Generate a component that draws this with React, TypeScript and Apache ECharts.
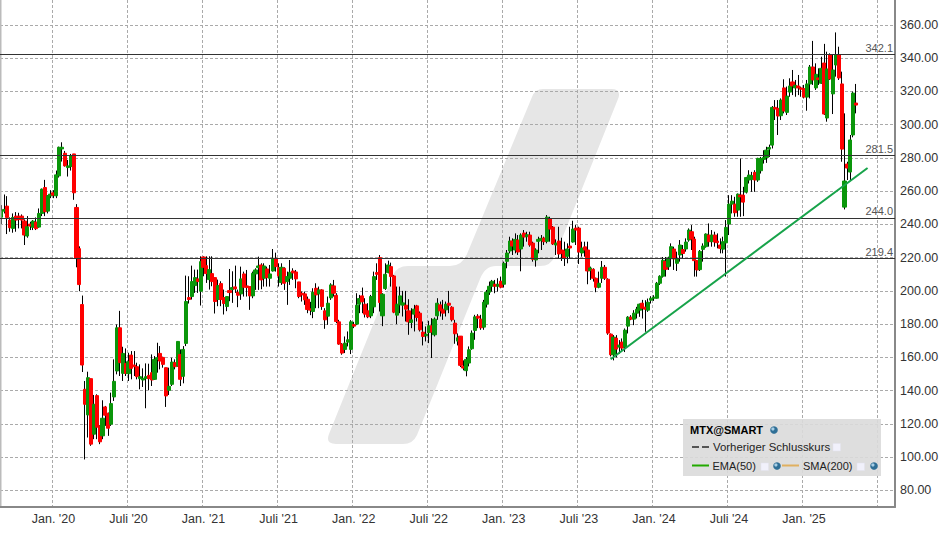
import React, { useEffect, useRef } from "react";
import * as echarts from "echarts";

// [open, close, low, high], weekly
const candles: number[][] = [
[244.3,248,240.2,251.6],[248,249,246.6,258],[251,244.2,234.2,257],[242.6,238,235.6,244.2],[237.6,244.2,235,246.6],[245,242.6,235.6,247.4],[245,243,237.6,247],[245,242.6,237.6,246],[242,233.6,227.6,243],[233,238.6,232,245],
[240.2,239,236.6,241.6],[238.2,242,236.6,242.6],[241.4,237.4,236.6,244.2],[238.4,246.6,238,249.6],[246.6,261.2,245,261.6],[262.2,247.6,245,266.8],[248,257.2,246.6,257.6],[257.2,258.2,255.8,260.6],[259,257.6,255.8,260.6],[257.2,269.8,255.8,272.4],
[269.2,286.4,268.2,286.8],[285.4,286.4,277.8,289.4],[282.8,275.2,274.8,284.2],[274.2,275.2,268.8,278.8],[274.8,281.2,272.4,282.4],[282.4,259,254.8,282.4],[250.2,219.8,214.2,252.2],[225.4,203.8,199.8,226.8],[191.8,155.4,151.2,197.2],[140.8,131.8,98.6,145.8],
[125.4,147.8,111.8,151.4],[147.2,107.8,106.8,147.2],[113.8,131.8,110.8,137.4],[137,118,110.8,137.8],[118.8,109.2,107.8,119.2],[112.8,123.4,110.8,134.2],[130.2,125.2,118.8,130.8],[126.4,117.4,112.8,126.8],[119.8,132.2,118.8,138.8],[136.2,145.6,133.8,158.8],
[151.8,177.8,149.8,179.8],[177.8,156.8,148.8,188],[150.4,162.4,145.8,166.4],[156.4,150.4,148.8,165.4],[150.2,157.4,145.8,162.8],[161.4,153.4,146.8,163.8],[155.4,154.4,148.8,163.8],[154.4,148.4,146.8,156.8],[147.2,148.4,140.8,155.8],[146.4,147.4,142.2,153.4],
[147.4,148.4,129.4,156.4],[149.2,147.2,140.2,156.2],[150.8,146.4,142.8,161.8],[146.8,158.8,146.4,160.8],[158.8,159.8,150.8,168.8],[162.4,157.8,152.8,166.8],[160,155.8,153.8,160.4],[153.8,136.8,130.2,153.8],[140.2,142.6,137.4,153.8],[143.8,157.2,142.8,159.8],
[156.8,154.4,152.8,158.8],[154.8,169.6,154.4,169.6],[161.8,146.8,142.8,164.8],[148.6,164.8,144.4,166.8],[168.4,193.6,166.8,209.2],[196,194.8,192.4,208.8],[196.6,205.6,194.8,215.2],[203.2,208,198.8,212.8],[207.2,205.6,198.8,212.8],[199.8,217.6,191.2,220.8],
[220.4,214.2,208.8,220.8],[215.2,210.4,204.8,220.8],[206.8,212.8,200.8,220.8],[210.4,205.6,202.8,220.8],[208,193.6,186.4,208],[194.8,203.2,190.8,206.8],[204.4,194.8,190.8,205.8],[196,192.4,185.8,200.8],[190.6,196.6,187.8,196.8],[200.2,199,193.8,213.2],
[200.8,202,192.8,211.8],[202.4,201.2,198.8,215.2],[199.2,197.4,190.2,200.8],
[198.2,207.2,194.6,214.6],[210.2,202.2,196.6,211.6],[203,202,196.6,212.6],[202.6,197,188.6,202.6],[197,210.6,195.6,211.6],[210.2,212.6,200.6,213.6],[214,215,200.6,220.6],[215.6,206.6,201,216.6],[207.6,215,202.6,216.6],
[213.2,208,202.6,214.6],[207.6,210.2,202.6,215.6],[212,219.6,211.6,225.2],[219.6,214.6,211.6,223],[214,209,202.6,216.6],[205,214.2,203.6,216.6],[213.6,204.6,200.6,214.2],[205.6,208.6,191.6,211.6],[207.6,211.2,203.6,218.6],[212,210.8,206.6,213.6],
[211.4,207.2,201.6,212.6],[205.4,196.6,195.6,205.4],[198.6,197.6,193.6,199.6],[198.2,194.6,191.6,199.6],[195,188.8,186.6,196.6],[189.2,188.4,185.4,193.4],[187.6,199.2,183.6,201.6],[201.6,197.6,189.6,204.6],[198.2,200.6,189.6,202.6],[200.6,190.6,188.6,201],
[188,182.6,177.2,189.6],[184.8,192.6,179.6,196.6],[195.8,203.6,194.6,204.6],[203,198.6,196.6,206.6],[197.4,181.6,180.6,198.6],[181.4,168,167.6,182.6],[168,162.6,161.6,168.6],[164.8,168.6,162.6,172.6],[169.2,170.6,166.6,175.6],[164.8,181.4,162,182.4],
[179.8,178.8,177.6,181.4],[180,191.4,179.4,198.6],[192,195.4,186.6,197.6],[197,193.4,186.6,202],[192,186,184,195.6],[188,184.4,183.6,192.6],[185,196.6,183.6,197.6],[190.4,208.6,186.6,211.6],[211,210,206.6,216.6],[220,193,187.6,221.6],
[185,198,178.8,198.6],[201.4,210,200.6,216.6],[211,215.6,210.6,218.2],[214.6,208.6,202.6,217],[209,187.2,186.6,209.6],[185.4,192,180,202.6],[191.6,197,186.6,202.6],[191.4,192.8,184.6,200],[191.4,189,181.6,200],[188,181.4,173.6,195],
[181,182.6,177.6,189.6],[186,189,175.6,191.6],[191,184,181.6,191.6],[186.6,176.6,175.6,187.6],[175.2,172.6,167.2,181.6],[173,174,169.6,178.6],[175,179,168.6,182],[179,175.2,159.6,183.6],[173.6,183,172.6,184],[185,192.6,182.6,195.6],
[191.6,188,184.6,193.6],[189,186.6,182.6,194.6],[188.6,192,184.6,193.6],[192.6,191.4,186.6,200],[190.2,182.6,181.6,190.8],[180.6,174.2,168.2,182.6],[169.8,171.8,167.2,174.4],[172.8,155.2,154.2,172.8],[154.6,153.6,152.2,158.2],[152,158.8,148.6,160.2],
[156.6,164.6,154.6,166.6],
[165.2,174.6,164.6,176.2],[176.2,184.4,170.6,185.6],[184.8,183.6,177.6,186],[183,177.8,176.6,185.6],[178.2,193.2,176.6,194.6],[192,199.2,190,200.6],[199.2,202.8,197.6,205.6],[202.8,205.8,199.6,206.6],[204,202.8,198.6,206.6],[202.8,204,199.6,207.6],
[205.8,202.2,201.6,208.6],[204,216.6,202,217.6],[217.8,222.8,213.6,224.6],[224,230,222.6,232.6],[230,227,221.6,231.6],[224.6,231,222.6,234.6],[230.6,223.4,221.6,233.6],[225.2,233.6,211.8,234.6],[234.8,232.4,226.6,236.6],[232.6,233.8,229.6,235.6],
[233.6,227.6,226.6,235.6],[228.8,219,217.6,229.6],[218.6,224.6,214.6,225.6],[229.8,231,222.6,232.6],[230.2,231.6,224.6,233.6],[231.8,229.6,227.6,232.6],[229.8,244.4,228.6,245.6],[243.2,237.2,229.6,244.6],[238.4,228.2,227.6,239],[227.6,228.8,221.6,231],
[230,222.2,219.6,238.6],[224.6,222.6,218,232],[224,219.8,215,229.6],[220.8,225.2,216.6,228.6],[227,225.8,219.6,238.6],[229.4,237.2,229,242.2],[237.8,236.6,227.6,239.6],[237.8,223.4,216.2,238.6],[222.8,225.8,220.6,229.6],[226.5,224.6,220.6,229.6],
[224.6,212,204,229.6],[212.2,213.8,206.6,214.6],[213,207.6,205.6,213.6],[207.6,202.2,199.2,208],[202.2,204.6,201.6,211.6],[207.6,214.2,204.8,218],[214.2,207.6,206.6,215.6],[207,174.6,173.6,207.6],[174,161.6,160.6,174.4],[161.6,172.2,158.2,173.4],
[171.6,165,160,173.4],[166.2,167.4,162.2,170.4],[169.2,165.6,163.2,171.4],[166.2,176.4,163.2,177.4],[178.8,184.2,174.4,184.8],[184.2,183,182.4,185.4],[183,186.6,179.4,188.4],[186.6,189,183.4,190.4],[188.4,192,184.4,192.4],[192.6,189.6,183.4,194.6],
[190.2,189,175.4,194.4],[188.4,193.2,187.4,195.4],[194.4,195.6,192.4,196.8],[195.6,196.2,194,197.4],[195.6,204.6,195.4,205.4],[204.6,208.8,203.6,209.4],[208.8,218.4,208,220.4],[217.8,213,208.6,220.4],[214.4,219.8,212.6,220.6],[219.4,226.6,214.6,228.6],
[225.2,219.2,212.6,226.6],[216.6,219.4,212,223.6],[221.6,227.6,217.6,230.6],[224.9,222.5,219.5,227.6],[225.2,229.4,223.6,231.6],[230.6,236.6,229.6,237.6],
[235.6,231.2,224.6,239.6],[231.2,218.2,208.6,232.6],[218.2,212.6,208.6,218.6],[212.8,223.8,212,224.6],[225,227,217.6,228.6],[226.6,234.2,226,234.6],[233.6,229.6,226.6,240.6],[229.6,233.6,226.6,236.6],[233.6,229.4,226.6,235.6],[230,229,225.6,234.6],
[227.6,225.6,222.6,231.6],[225.1,229.6,222.6,232.6],[228.9,238.2,208.6,242.6],[240.2,252.2,233.6,257.6],[252.2,254,246.6,257.6],[252.2,247,244.6,256.6],[248.6,258.2,244.6,258.6],[257.6,256.6,244.6,279.6],[257.6,253.4,245,262.6],[259.4,268.2,258.6,268.6],
[266.7,269.7,264.6,272.6],[267.1,269.3,259.6,271.6],[271.3,266.7,259.6,272.6],[266.7,279.7,265.6,280.1],[272.3,279.7,270.6,280.6],[279.1,280.3,276.6,284.6],[280.3,284.7,277,286.7],[285.3,286.3,280.6,288],[287.7,310.4,285.7,311.2],[310.4,309.4,302.8,314.8],
[309.8,305.2,293.8,314.8],[305.4,314.8,302.8,315.8],[322.1,308.2,306.8,327.3],[307.4,317.2,305.8,322.9],[319.6,323.3,316.8,327.9],[325.7,323.3,317.8,332.9],[322.1,323.7,316.8,326.9],[323.3,322.1,317.8,329.9],[322.1,321.3,316.8,322.9],[321.7,316.6,315.8,323.9],
[316.6,324.5,308.4,326.9],[324.5,334.7,315.8,335.9],[334.7,326.9,323.9,350.4],[322.1,330.3,320.9,336.9],[328.1,327.1,323.9,333.9],[324.9,333.9,324.5,340.9],[337.1,306.4,305.8,348.6],[304,333.5,301.8,343.9],[341.9,327.5,326.9,342.9],[318.5,332.9,306.4,341.9],
[335.9,341.9,328.9,355.5],[341.9,328.1,326.9,346.9],[324.5,285.3,277.7,331.9],[250.4,266.1,249,306.8],[276.3,273.9,266.7,277.7],[271.5,290.8,266.7,293.8],[293.8,319,292.4,319.9],[313,311.8,306.8,324.5],
];
const xTickLabels = ["Jan. '20","Juli '20","Jan. '21","Juli '21","Jan. '22","Juli '22","Jan. '23","Juli '23","Jan. '24","Juli '24","Jan. '25"];
const levels = [342.1, 281.5, 244.0, 219.4];
const trendStart = { week: 211, value: 158.9 };
const trendEnd = { week: 300, value: 273.9 };
const weekCount = 310;
const firstTick = 18;
const tickStep = 26;

const weeks = Array.from({ length: weekCount }, (_, i) => "w" + i);
const isTick = (i: number) => i >= firstTick && (i - firstTick) % tickStep === 0;
const bodies = candles.map(([o, c]) => [o, c, Math.min(o, c), Math.max(o, c)]);
const trend: (number | null)[] = weeks.map((_, i) =>
  i === trendStart.week ? trendStart.value : i === trendEnd.week ? trendEnd.value : null
);

const WM =
  "M543 89 L611 89 Q622 89 618 99 L555 256 Q551 266 540 266 L496 266 Q485 266 480 279 L417 435 Q413 444 403 444 L336 444 Q325 444 329 434 L393 275 Q397 266 408 266 L450 266 Q462 266 467 254 L532 97 Q535 89 543 89 Z";
echarts.graphic.registerShape("wm", echarts.graphic.extendPath(WM, {}) as any);

const FONT = "Liberation Sans";
const txt = (x: number, y: number, text: string, extra: any = {}) => ({
  type: "text", x, y, z: 101,
  style: { text, fontFamily: FONT, fontSize: 11, fill: "#222", verticalAlign: "middle", ...extra },
});
const orb = (x: number, y: number) => ({
  type: "group", z: 101,
  children: [
    { type: "circle", z: 101, shape: { cx: x, cy: y, r: 3.8 }, style: { fill: "#2f6f96" } },
    { type: "circle", z: 102, shape: { cx: x - 1.1, cy: y - 1, r: 1.6 }, style: { fill: "#a9cfe6" } },
  ],
});
const box = (x: number, y: number) => ({
  type: "rect", z: 101, shape: { x, y, width: 7.5, height: 7.5 }, style: { fill: "#f1f1fb", stroke: "#e3e3ee", lineWidth: 0.5 },
});
const seg = (x1: number, x2: number, y: number, stroke: string, lineWidth = 2) => ({
  type: "line", z: 101, shape: { x1, y1: y, x2, y2: y }, style: { stroke, lineWidth },
});

export default function App() {
  const ref = useRef<HTMLDivElement>(null);
  useEffect(() => {
    const chart = echarts.init(ref.current!, undefined, { renderer: "svg" });
    chart.setOption({
      animation: false,
      backgroundColor: "#fff",
      grid: { left: 0, right: 53, top: 0, bottom: 27 },
      xAxis: {
        type: "category",
        data: weeks,
        axisLine: { lineStyle: { color: "#888", width: 2 } },
        axisTick: { show: false },
        axisLabel: {
          interval: (i: number) => isTick(i),
          formatter: (_: string, i: number) => xTickLabels[(i - firstTick) / tickStep] ?? "",
          fontFamily: FONT, fontSize: 12.5, color: "#333", margin: 5,
        },
        splitLine: {
          show: true,
          interval: (i: number) => isTick(i),
          lineStyle: { color: "#aaa", type: [3, 2], width: 1 },
        },
      },
      yAxis: {
        type: "value",
        position: "right",
        min: 70,
        max: 375,
        splitNumber: 15,
        axisLine: { show: true, lineStyle: { color: "#888", width: 2 } },
        axisTick: { show: false },
        axisLabel: {
          formatter: (v: number) => (v % 20 === 0 ? v.toFixed(2) : ""),
          fontFamily: FONT, fontSize: 12.5, color: "#333", margin: 5,
        },
        splitLine: {
          show: true, showMinLine: false, showMaxLine: false,
          lineStyle: { color: "#aaa", type: [3, 2], width: 1 },
        },
      },
      series: [
        {
          type: "candlestick", name: "wicks", data: candles, barWidth: 0, z: 3,
          itemStyle: { color: "#000", color0: "#000", borderColor: "#000", borderColor0: "#000", borderColorDoji: "#000", borderWidth: 1 },
          markLine: {
            silent: true, symbol: "none", z: 8,
            lineStyle: { color: "#333", type: "solid", width: 1 },
            label: {
              position: "insideEndTop", distance: [2, 1], fontFamily: FONT, fontSize: 11, color: "#555",
              formatter: (p: any) => Number(p.value).toFixed(1),
            },
            data: levels.map((v) => ({ yAxis: v })),
          },
        },
        {
          type: "candlestick", name: "bodies", data: bodies, barWidth: 3.6, z: 4,
          itemStyle: { color: "#0a960a", color0: "#ff0000", borderColor: "#0a960a", borderColor0: "#ff0000", borderColorDoji: "#ff0000", borderWidth: 1 },
        },
        {
          type: "line", name: "trend", data: trend, connectNulls: true, showSymbol: false, symbol: "none", z: 9,
          lineStyle: { color: "#17a34a", width: 2 },
        },
      ],
      graphic: [
        { type: "wm", x: 0, y: 0, z: -5, silent: true, style: { fill: "#e6e6e6" } },
        { type: "rect", z: 5, shape: { x: 0, y: 0, width: 1.5, height: 506 }, style: { fill: "#bbb" } },
        { type: "rect", z: 100, shape: { x: 683, y: 419, width: 198, height: 57 }, style: { fill: "rgba(218,218,218,0.9)" } },
        txt(690, 430, "MTX@SMART", { fontWeight: "bold", fill: "#000" }),
        orb(774, 430),
        seg(692, 699, 447, "#555"),
        seg(702, 709, 447, "#555"),
        txt(713, 447, "Vorheriger Schlusskurs", { fontSize: 11.4 }),
        box(833, 443.5),
        seg(692, 709, 465.5, "#22aa00"),
        txt(712.5, 466, "EMA(50)"),
        box(761, 463),
        orb(777, 466),
        seg(782, 799, 465.5, "#e0b060"),
        txt(803, 466, "SMA(200)"),
        box(857, 463),
        orb(874, 466),
      ],
    });
    return () => chart.dispose();
  }, []);
  return <div ref={ref} style={{ position: "absolute", left: 0, top: 0, width: 948, height: 534 }} />;
}
